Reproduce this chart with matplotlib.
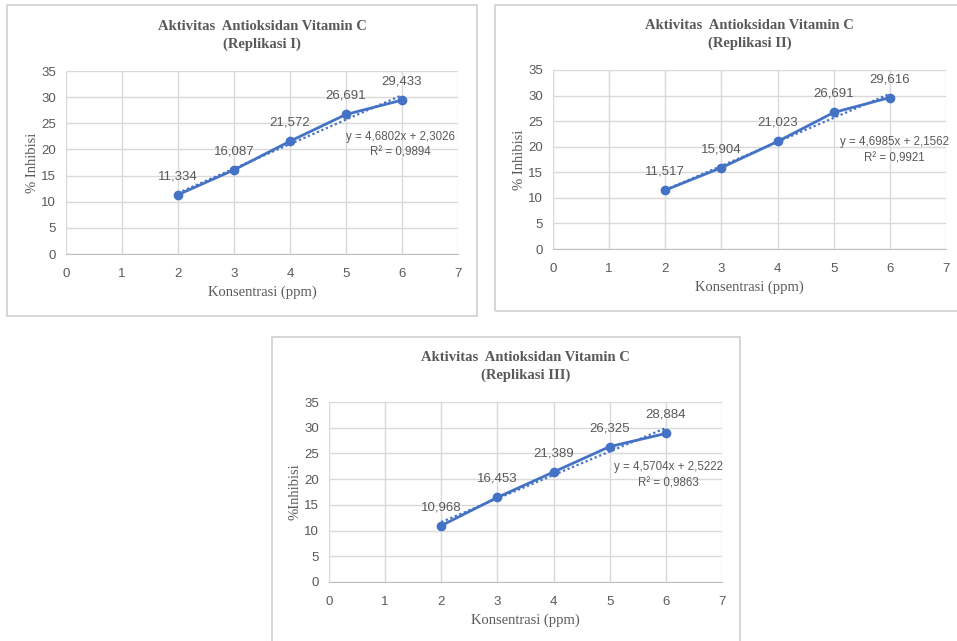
import matplotlib
matplotlib.use("Agg")
import matplotlib.pyplot as plt
from matplotlib.patches import Rectangle

# data
konsentrasi = [2, 3, 4, 5, 6]
inhibisi_1 = [11.334, 16.087, 21.572, 26.691, 29.433]
inhibisi_2 = [11.517, 15.904, 21.023, 26.691, 29.616]
inhibisi_3 = [10.968, 16.453, 21.389, 26.325, 28.884]
labels_1 = ["11,334", "16,087", "21,572", "26,691", "29,433"]
labels_2 = ["11,517", "15,904", "21,023", "26,691", "29,616"]
labels_3 = ["10,968", "16,453", "21,389", "26,325", "28,884"]
slopes = [4.6802, 4.6985, 4.5704]
intercepts = [2.3026, 2.1562, 2.5222]
equations = ["y = 4,6802x + 2,3026\nR² = 0,9894",
             "y = 4,6985x + 2,1562\nR² = 0,9921",
             "y = 4,5704x + 2,5222\nR² = 0,9863"]
titles = ["Aktivitas  Antioksidan Vitamin C\n(Replikasi I)",
          "Aktivitas  Antioksidan Vitamin C\n(Replikasi II)",
          "Aktivitas  Antioksidan Vitamin C\n(Replikasi III)"]
ylabels = ["% Inhibisi", "% Inhibisi", "%Inhibisi"]

W, H = 957, 641
BLUE = "#4472C4"
GREY = "#595959"
SERIF = ["Liberation Serif", "DejaVu Serif"]
SANS = ["Liberation Sans", "DejaVu Sans"]

fig = plt.figure(figsize=(W / 100, H / 100), dpi=100)
fig.patch.set_facecolor("white")


def make_chart(box, plot, x, y, labels, slope, intercept, eq, eq_pos, title, ylabel):
    # box and plot given in pixels: (left, top, right, bottom)
    bl, bt, br, bb = box
    fig.patches.append(Rectangle((bl / W, 1 - bb / H), (br - bl) / W, (bb - bt) / H,
                                 transform=fig.transFigure, fill=False,
                                 edgecolor="#D0D0D0", linewidth=1.2))
    pl, pt, pr, pb = plot
    ax = fig.add_axes([pl / W, 1 - pb / H, (pr - pl) / W, (pb - pt) / H])
    ax.set_xlim(0, 7)
    ax.set_ylim(0, 35)
    ax.set_xticks(range(0, 8))
    ax.set_yticks(range(0, 36, 5))
    ax.grid(True, color="#D9D9D9", linewidth=1)
    ax.set_axisbelow(True)
    for s in ["top", "right", "left"]:
        ax.spines[s].set_visible(False)
    ax.spines["bottom"].set_color("#BFBFBF")
    ax.tick_params(length=0, colors=GREY, labelsize=9.5)
    ax.tick_params(axis="x", pad=10)
    ax.tick_params(axis="y", pad=7)
    for t in ax.get_xticklabels() + ax.get_yticklabels():
        t.set_family(SANS)

    # trendline
    fit = [slope * k + intercept for k in x]
    ax.plot([x[0], x[-1]], [fit[0], fit[-1]], color=BLUE, linestyle=(0, (1, 1.2)),
            linewidth=1.6)
    ax.plot(x, y, color=BLUE, linewidth=2, marker="o", markersize=6)
    for xi, yi, lab in zip(x, y, labels):
        ax.annotate(lab, (xi, yi), xytext=(0, 9), textcoords="offset points",
                    ha="center", va="bottom", fontsize=9.5, color=GREY, family=SANS)
    ax.text(eq_pos[0], eq_pos[1], eq, ha="center", va="center", fontsize=8.3,
            color=GREY, family=SANS, linespacing=1.45)

    ax.set_xlabel("Konsentrasi (ppm)", fontsize=10.5, color=GREY, family=SERIF, labelpad=4)
    ax.set_ylabel(ylabel, fontsize=10.5, color=GREY, family=SERIF, labelpad=2)
    ax.set_title(title, fontsize=10.5, fontweight="bold", color=GREY, family=SERIF,
                 pad=17, linespacing=1.35)


make_chart((7, 5, 477, 316), (66, 71, 458, 254), konsentrasi, inhibisi_1, labels_1,
           slopes[0], intercepts[0], equations[0], (5.97, 20.9), titles[0], ylabels[0])
make_chart((495, 5, 960, 311), (553, 70, 946, 249), konsentrasi, inhibisi_2, labels_2,
           slopes[1], intercepts[1], equations[1], (6.08, 19.3), titles[1], ylabels[1])
make_chart((272, 337, 740, 660), (329, 402, 722, 582), konsentrasi, inhibisi_3, labels_3,
           slopes[2], intercepts[2], equations[2], (6.04, 20.8), titles[2], ylabels[2])

plt.savefig("out.png", dpi=100, facecolor="white")
plt.close()
